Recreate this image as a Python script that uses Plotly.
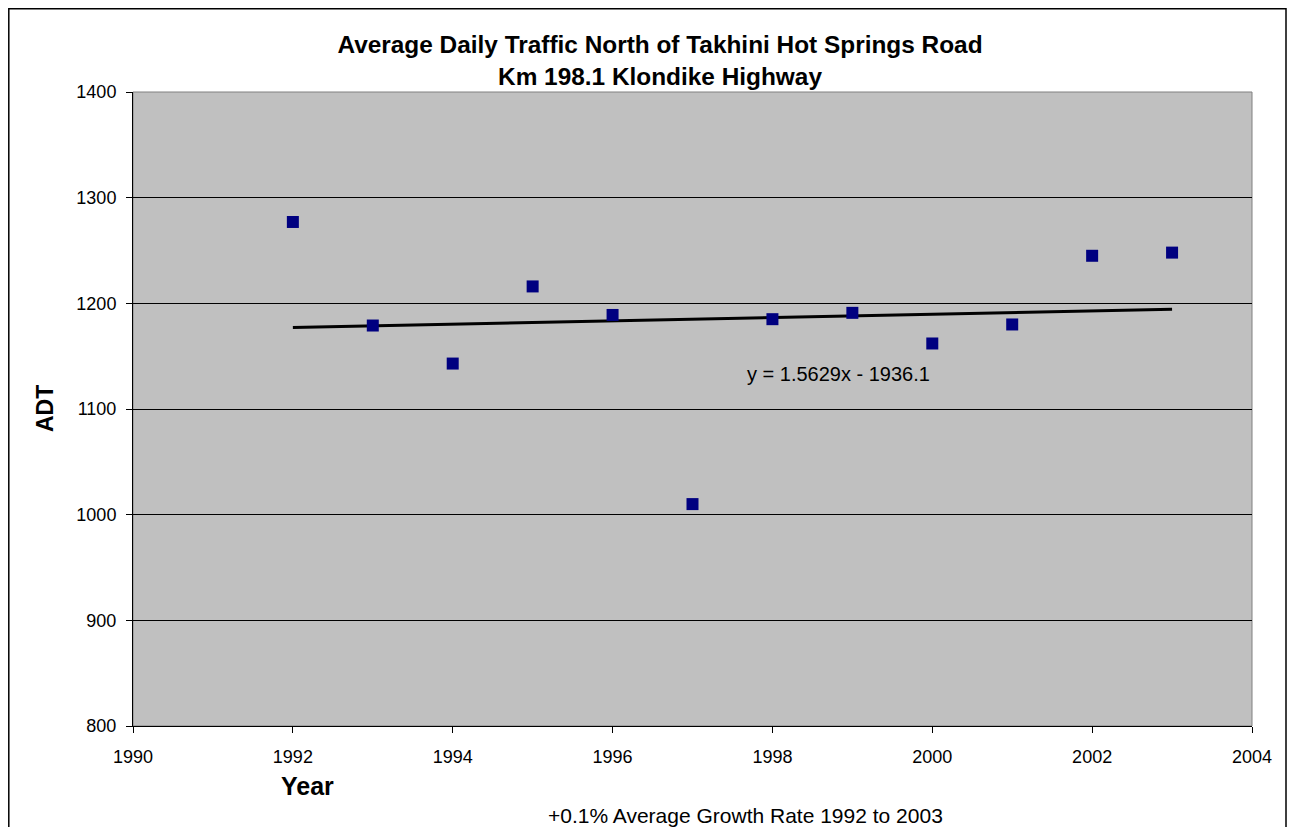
import plotly.graph_objects as go

years = [1992, 1993, 1994, 1995, 1996, 1997, 1998, 1999, 2000, 2001, 2002, 2003]
adt = [1277, 1179, 1143, 1216, 1189, 1010, 1185, 1191, 1162, 1180, 1245, 1248]

# linear trend as printed on the chart
slope = 1.5629
intercept = -1936.1
trend_x = [years[0], years[-1]]
trend_y = [slope * x + intercept for x in trend_x]

# page body adds an 8px margin, so work in screen pixels and shift
OFF = 8
W, H = 1295 - OFF, 827 - OFF
L, R, T, B = 133 - OFF, 1295 - 1252, 92 - OFF, 827 - 726
pw, ph = W - L - R, H - T - B


def px(x):
    return (x - OFF - L) / pw


def py(y):
    return (H - B - (y - OFF)) / ph


font = "Liberation Sans, Arial, sans-serif"

fig = go.Figure()
fig.add_trace(go.Scatter(x=trend_x, y=trend_y, mode="lines",
                         line=dict(color="black", width=3), hoverinfo="skip"))
fig.add_trace(go.Scatter(x=years, y=adt, mode="markers",
                         marker=dict(symbol="square", size=12, color="#000080",
                                     line=dict(width=0))))

fig.update_layout(
    width=W, height=H,
    margin=dict(l=L, r=R, t=T, b=B),
    paper_bgcolor="white", plot_bgcolor="#c0c0c0",
    showlegend=False,
    font=dict(family=font, size=18, color="black"),
    title=dict(text="<b>Average Daily Traffic North of Takhini Hot Springs Road<br>Km 198.1 Klondike Highway</b>",
               xref="paper", x=px(660), xanchor="center",
               y=1 - (53 - OFF) / H, yanchor="middle",
               font=dict(size=24.4)),
)
fig.update_xaxes(range=[1990, 2004], dtick=2, showgrid=False, zeroline=False,
                 ticks="outside", ticklen=6, tickcolor="black", ticklabelstandoff=8,
                 showline=True, linecolor="black", linewidth=1, mirror=False)
fig.update_yaxes(range=[800, 1400], dtick=100, showgrid=True, gridcolor="black", gridwidth=1,
                 zeroline=False, ticks="outside", ticklen=6, tickcolor="black", ticklabelstandoff=6,
                 showline=True, linecolor="black", linewidth=1)

# plot area right/top border
fig.add_shape(type="rect", xref="paper", yref="paper", x0=0, x1=1, y0=0, y1=1,
              line=dict(color="#808080", width=1), layer="below")
# outer chart border
fig.add_shape(type="rect", xref="paper", yref="paper", x0=px(8.8), x1=px(1286),
              y0=py(850), y1=py(8.8), line=dict(color="black", width=1.5))

ann = dict(xref="paper", yref="paper", showarrow=False, xanchor="center", yanchor="middle")
fig.add_annotation(text="y = 1.5629x - 1936.1", x=px(838), y=py(374),
                   font=dict(size=20), **ann)
fig.add_annotation(text="<b>Year</b>", x=px(307), y=py(786),
                   font=dict(size=25), **ann)
fig.add_annotation(text="<b>ADT</b>", textangle=-90, x=px(45), y=py(409),
                   font=dict(size=23), **ann)
fig.add_annotation(text="+0.1% Average Growth Rate 1992 to 2003", x=px(745), y=py(815),
                   font=dict(size=21), **ann)

fig.write_html("out.html")
